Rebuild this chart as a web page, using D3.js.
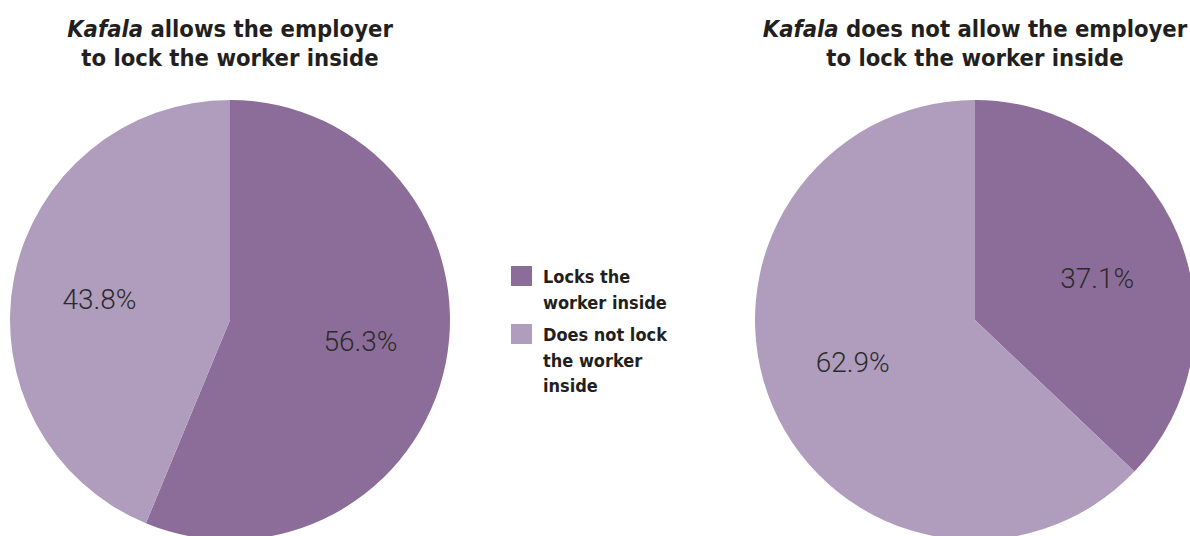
<!DOCTYPE html>
<html><head><meta charset="utf-8">
<script src="https://cdn.jsdelivr.net/npm/d3@7"></script>
<style>
html,body{margin:0;padding:0;background:#fff;}
svg{display:block;}
</style></head>
<body>
<svg id="chart" width="1190" height="536"></svg>
<script>
const categories = ["Locks the worker inside", "Does not lock the worker inside"];
const legendLines = [["Locks the", "worker inside"], ["Does not lock", "the worker", "inside"]];
const pieTitlesItalic = ["Kafala", "Kafala"];
const pieTitlesLine1 = [" allows the employer", " does not allow the employer"];
const pieTitlesLine2 = ["to lock the worker inside", "to lock the worker inside"];
const allowsValues = [56.3, 43.8];
const notAllowsValues = [37.1, 62.9];
const colors = ["#8c6d99", "#b09dbd"];

const svg = d3.select("#chart");
const color = d3.scaleOrdinal().domain(categories).range(colors);
const R = 220;
const centers = [[230, 320], [975, 320]];
const datasets = [allowsValues, notAllowsValues];
const fontTitle = "'DejaVu Sans Condensed','Roboto',sans-serif";

const pie = d3.pie().sort(null).value(d => d.v);
const arc = d3.arc().innerRadius(0).outerRadius(R);
const labelArc = d3.arc().innerRadius(133).outerRadius(133);

datasets.forEach((vals, i) => {
  const g = svg.append("g").attr("transform", `translate(${centers[i][0]},${centers[i][1]})`);
  const data = pie(vals.map((v, k) => ({cat: categories[k], v})));
  g.selectAll("path").data(data).join("path")
    .attr("d", arc).attr("fill", d => color(d.data.cat));
  g.selectAll("text.lbl").data(data).join("text")
    .attr("class", "lbl")
    .attr("transform", d => { const c = labelArc.centroid(d); return `translate(${c[0]},${c[1] * 0.8})`; })
    .attr("text-anchor", "middle").attr("dy", "0.36em")
    .attr("font-family", "Roboto, sans-serif").attr("font-weight", 300)
    .attr("font-size", 28).attr("fill", "#2b2b2b")
    .text(d => d.data.v.toFixed(1) + "%");

  const t = svg.append("text").attr("x", centers[i][0]).attr("y", 37)
    .attr("text-anchor", "middle").attr("font-family", fontTitle)
    .attr("font-weight", "bold").attr("font-size", 23.6).attr("fill", "#231f20");
  t.append("tspan").attr("font-style", "italic").text(pieTitlesItalic[i]);
  t.append("tspan").text(pieTitlesLine1[i]);
  svg.append("text").attr("x", centers[i][0]).attr("y", 66)
    .attr("text-anchor", "middle").attr("font-family", fontTitle)
    .attr("font-weight", "bold").attr("font-size", 23.6).attr("fill", "#231f20")
    .text(pieTitlesLine2[i]);
});

// legend
const lg = svg.append("g");
const legendY = [266, 324];
categories.forEach((c, k) => {
  lg.append("rect").attr("x", 511).attr("y", legendY[k]).attr("width", 21).attr("height", 20)
    .attr("fill", color(c));
  legendLines[k].forEach((line, j) => {
    lg.append("text").attr("x", 543).attr("y", legendY[k] + 17 + j * 25.5)
      .attr("font-family", fontTitle).attr("font-weight", "bold")
      .attr("font-size", 18).attr("fill", "#231f20").text(line);
  });
});
</script>
</body></html>
